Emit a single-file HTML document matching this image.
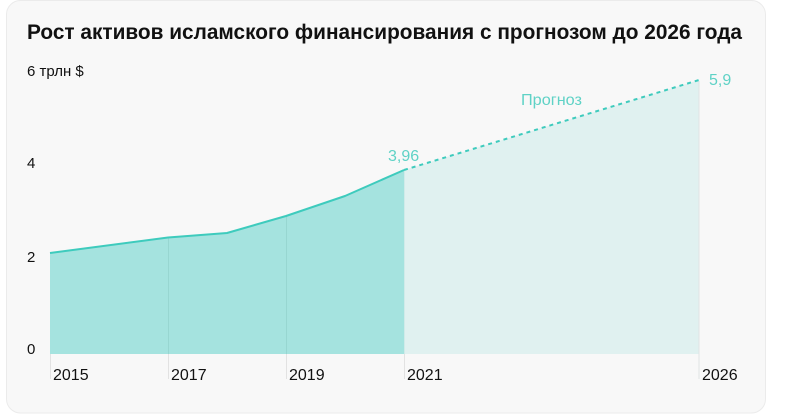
<!DOCTYPE html>
<html><head><meta charset="utf-8"><style>
html,body{margin:0;padding:0;background:#fff;width:800px;height:420px;overflow:hidden}
svg{display:block}
text{font-family:"Liberation Sans","DejaVu Sans",sans-serif}
</style></head><body>
<svg width="800" height="420" viewBox="0 0 800 420" xmlns="http://www.w3.org/2000/svg">
<rect x="6.5" y="0.5" width="759" height="412.5" rx="14" ry="14" fill="#f8f8f8" stroke="#ebebeb" stroke-width="1"/>
<text x="27" y="39" font-size="21.5" font-weight="bold" fill="#111" textLength="715" lengthAdjust="spacingAndGlyphs">Рост активов исламского финансирования с прогнозом до 2026 года</text>
<!-- forecast fill -->
<polygon points="404,170 699,80 699,354 404,354" fill="#e0f1f0"/>
<!-- historical fill -->
<polygon points="50,253 168,237.5 227,233 286,216 345,196 404,170 404,354 50,354" fill="#a5e3df"/>
<!-- vertical lines -->
<g stroke-width="1">
<line x1="50.5" y1="354" x2="50.5" y2="379" stroke="#e2e2e2"/>
<line x1="168.5" y1="238" x2="168.5" y2="354" stroke="#97d6d1"/>
<line x1="168.5" y1="354" x2="168.5" y2="379" stroke="#e2e2e2"/>
<line x1="286.5" y1="216" x2="286.5" y2="354" stroke="#97d6d1"/>
<line x1="286.5" y1="354" x2="286.5" y2="379" stroke="#e2e2e2"/>
<line x1="404.5" y1="171" x2="404.5" y2="354" stroke="#d0ebe9"/>
<line x1="404.5" y1="354" x2="404.5" y2="379" stroke="#e2e2e2"/>
<line x1="699" y1="81" x2="699" y2="379" stroke="#dfe4e4"/>
</g>
<!-- lines -->
<polyline points="50,253 168,237.5 227,233 286,216 345,196 404,170" fill="none" stroke="#3ecbbd" stroke-width="2" stroke-linejoin="round"/>
<line x1="404" y1="170" x2="699" y2="80" stroke="#3ecbbd" stroke-width="2" stroke-dasharray="4,4"/>
<!-- y labels -->
<g font-size="15" fill="#111">
<text x="27" y="76">6 трлн $</text>
<text x="27" y="168">4</text>
<text x="27" y="262">2</text>
<text x="27" y="354">0</text>
</g>
<!-- x labels -->
<g font-size="16" fill="#111">
<text x="53" y="380">2015</text>
<text x="171" y="380">2017</text>
<text x="289" y="380">2019</text>
<text x="407" y="380">2021</text>
<text x="702" y="380">2026</text>
</g>
<!-- annotations -->
<g font-size="16" fill="#5fd2c6">
<text x="388" y="161">3,96</text>
<text x="709" y="85">5,9</text>
<text x="521" y="105" textLength="61" lengthAdjust="spacingAndGlyphs">Прогноз</text>
</g>
</svg>
</body></html>
